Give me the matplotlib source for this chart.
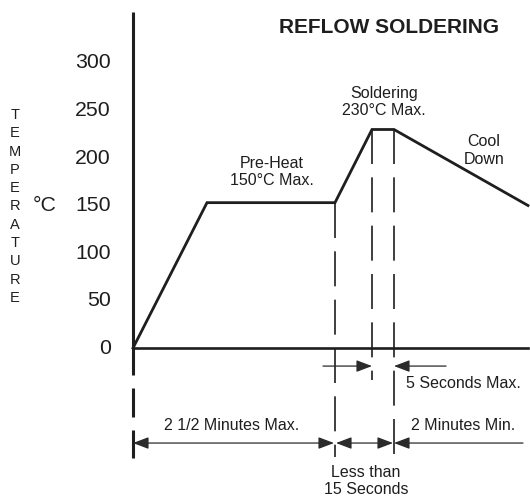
#!/usr/bin/env python3

import matplotlib
matplotlib.use("Agg")
import matplotlib.pyplot as plt

plt.rcParams['font.family'] = ['Liberation Sans', 'DejaVu Sans']

# schematic time axis (not to scale), temperature in degrees C
profile_time = [0, 74, 202, 239, 261, 395]
profile_temp = [0, 153, 153, 230, 230, 150]
y_ticks = [0, 50, 100, 150, 200, 250, 300]

preheat_end = profile_time[2]
peak_start = profile_time[3]
peak_end = profile_time[4]

ink = '#1e1e1e'
thin = '#2a2a2a'

fig = plt.figure(figsize=(5.30, 4.97), dpi=100)
ax = fig.add_axes([0, 0, 1, 1])
ax.set_xlim(-133, 397)
ax.set_ylim(-156.8, 366.3)
ax.axis('off')

# axes drawn by hand
ax.plot([0, 0], [354, -28], color=ink, lw=2.2, solid_capstyle='butt')
ax.plot([0, 0], [-42, -73], color=ink, lw=2.2, solid_capstyle='butt')
ax.plot([0, 0], [-86, -116], color=ink, lw=2.2, solid_capstyle='butt')
ax.plot([0, 395], [0, 0], color=ink, lw=1.9)

for v in y_ticks:
    ax.text(-22, v, str(v), ha='right', va='center', fontsize=15.3, color=ink)
ax.text(-88, 150, '°C', ha='center', va='center', fontsize=15.3, color=ink)
ax.text(-118, 149, '\n'.join('TEMPERATURE'), ha='center', va='center',
        fontsize=10.5, color=ink, linespacing=1.39)

# profile
ax.plot(profile_time, profile_temp, color=ink, lw=2.0, solid_joinstyle='miter')

# dashed phase markers
for x0, top, bottom in [(preheat_end, profile_temp[2], -115),
                        (peak_start, profile_temp[3], -34),
                        (peak_end, profile_temp[4], -115)]:
    ln, = ax.plot([x0, x0], [top, bottom], color=ink, lw=1.2)
    ln.set_dashes([21, 8])

def arrow(tip, tail, y, style='-|>'):
    ax.annotate('', xy=(tip, y), xytext=(tail, y),
                arrowprops=dict(arrowstyle=style + ',head_length=0.95,head_width=0.36',
                                color=thin, lw=0.9, shrinkA=0, shrinkB=0))

# 5 seconds row
y1 = -19
arrow(peak_start, peak_start - 49, y1)
arrow(peak_end, peak_end + 52, y1)

# duration row
y2 = -100
arrow(preheat_end - 1, 0, y2, '<|-|>')
arrow(peak_start + 21, preheat_end + 1, y2, '<|-|>')
arrow(peak_end, 390, y2)

fs = 11.5
ax.text(256, 337, 'REFLOW SOLDERING', ha='center', va='center',
        fontsize=15, fontweight='bold', color=ink)
ax.text(139, 185, 'Pre-Heat\n150°C Max.', ha='center', va='center',
        fontsize=fs, color=ink, linespacing=1.2)
ax.text(251, 259, 'Soldering\n230°C Max.', ha='center', va='center',
        fontsize=fs, color=ink, linespacing=1.2)
ax.text(351, 208, 'Cool\nDown', ha='center', va='center',
        fontsize=fs, color=ink, linespacing=1.2)
ax.text(330, -37, '5 Seconds Max.', ha='center', va='center', fontsize=fs, color=ink)
ax.text(99, -82, '2 1/2 Minutes Max.', ha='center', va='center', fontsize=fs, color=ink)
ax.text(330, -82, '2 Minutes Min.', ha='center', va='center', fontsize=fs, color=ink)
ax.text(233, -140, 'Less than\n15 Seconds', ha='center', va='center',
        fontsize=fs, color=ink, linespacing=1.2)

fig.savefig('out.png', dpi=100)
